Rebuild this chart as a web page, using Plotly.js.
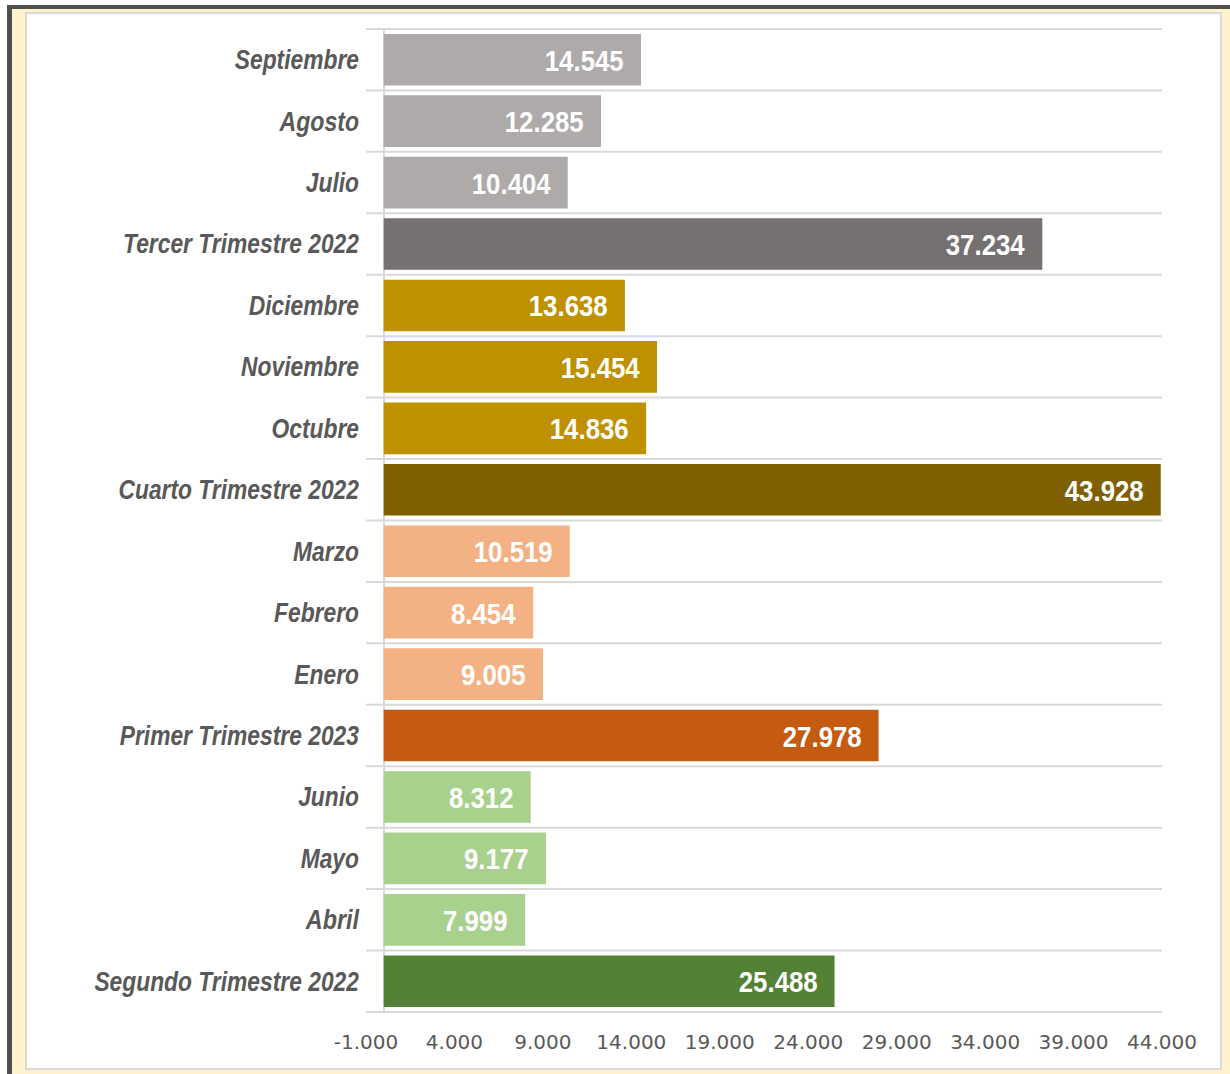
<!DOCTYPE html>
<html>
<head>
<meta charset="utf-8">
<script src="https://cdn.plot.ly/plotly-3.0.1.min.js"></script>
<style>
  html, body { margin: 0; padding: 0; background: #ffffff; width: 1230px; height: 1074px; overflow: hidden; }
  #frame { position: absolute; left: 7px; top: 5px; width: 1223px; height: 1069px; box-sizing: border-box;
           border-left: 5px solid #4f4f4f; border-top: 4px solid #4f4f4f; background: #FFF2CC; }
  #panel { position: absolute; left: 25px; top: 12px; width: 1197px; height: 1058px; box-sizing: border-box;
           border: 2px solid #d9d9d9; background: #ffffff; }
  #chart { position: absolute; left: 0; top: 0; width: 1230px; height: 1074px; }
</style>
</head>
<body>
<div id="frame"></div>
<div id="panel"></div>
<div id="chart"></div>
<script>
const categories = [
  "Septiembre", "Agosto", "Julio", "Tercer Trimestre 2022",
  "Diciembre", "Noviembre", "Octubre", "Cuarto Trimestre 2022",
  "Marzo", "Febrero", "Enero", "Primer Trimestre 2023",
  "Junio", "Mayo", "Abril", "Segundo Trimestre 2022"
];
const values = [
  14545, 12285, 10404, 37234,
  13638, 15454, 14836, 43928,
  10519, 8454, 9005, 27978,
  8312, 9177, 7999, 25488
];
const barColors = [
  "#AEAAAA", "#AEAAAA", "#AEAAAA", "#767171",
  "#BF9000", "#BF9000", "#BF9000", "#7F6000",
  "#F4B183", "#F4B183", "#F4B183", "#C55A11",
  "#A9D18E", "#A9D18E", "#A9D18E", "#538135"
];
const tickValues = [-1000, 4000, 9000, 14000, 19000, 24000, 29000, 34000, 39000, 44000];
const tickLabels = ["-1.000", "4.000", "9.000", "14.000", "19.000", "24.000", "29.000", "34.000", "39.000", "44.000"];

function fmt(v) {
  return String(v).replace(/\B(?=(\d{3})+(?!\d))/g, ".");
}

const sansFont = "Liberation Sans, Arial, sans-serif";

const trace = {
  type: "bar",
  orientation: "h",
  x: values,
  y: categories,
  marker: { color: barColors, line: { width: 0 } },
  width: 0.84,
  hoverinfo: "none"
};

const annotations = values.map((v, i) => ({
  x: v, y: categories[i], xref: "x", yref: "y",
  text: fmt(v), showarrow: false, xanchor: "right", yanchor: "middle",
  xshift: -15, yshift: -1,
  font: { family: sansFont, size: 29, color: "#ffffff", weight: 700 }
}));

const shapes = [];
for (let k = 0; k <= categories.length; k++) {
  shapes.push({
    type: "line", xref: "paper", yref: "y", x0: 0, x1: 1, y0: k - 0.5, y1: k - 0.5,
    line: { color: "#d9d9d9", width: 2 }, layer: "below"
  });
}

const layout = {
  width: 1230, height: 1074,
  margin: { l: 366, r: 68, t: 28, b: 61 },
  paper_bgcolor: "rgba(0,0,0,0)",
  plot_bgcolor: "rgba(0,0,0,0)",
  showlegend: false,
  bargap: 0.16,
  xaxis: {
    range: [-1000, 44000],
    tickvals: tickValues,
    ticktext: tickLabels,
    showgrid: false,
    zeroline: true, zerolinecolor: "#d9d9d9", zerolinewidth: 2,
    showline: false,
    ticks: "",
    ticklabelstandoff: 15,
    tickfont: { family: "DejaVu Sans, Verdana, sans-serif", size: 20, color: "#595959" },
    fixedrange: true
  },
  yaxis: {
    type: "category",
    autorange: "reversed",
    showgrid: false,
    zeroline: false,
    showline: false,
    ticks: "",
    ticklabelstandoff: 6,
    tickfont: { family: sansFont, size: 27, color: "#595959", weight: 700, style: "italic" },
    fixedrange: true
  },
  shapes: shapes,
  annotations: annotations
};

// Narrow the text horizontally (the original uses a condensed face)
function condense(el, ratio, keepRight) {
  const before = el.getBBox();
  if (!before.width) return;
  el.setAttribute("textLength", (before.width * ratio).toFixed(2));
  el.setAttribute("lengthAdjust", "spacingAndGlyphs");
  if (keepRight) {
    const after = el.getBBox();
    const dx = (before.x + before.width) - (after.x + after.width);
    if (Math.abs(dx) > 0.1) {
      const x0 = parseFloat(el.getAttribute("x") || "0");
      el.setAttribute("x", (x0 + dx).toFixed(2));
    }
  }
}

Plotly.newPlot("chart", [trace], layout, { displayModeBar: false, staticPlot: true }).then(gd => {
  gd.querySelectorAll(".ytick text").forEach(t => condense(t, 0.845, true));
  gd.querySelectorAll(".annotation-text").forEach(t => condense(t, 0.89, true));
});
</script>
</body>
</html>
